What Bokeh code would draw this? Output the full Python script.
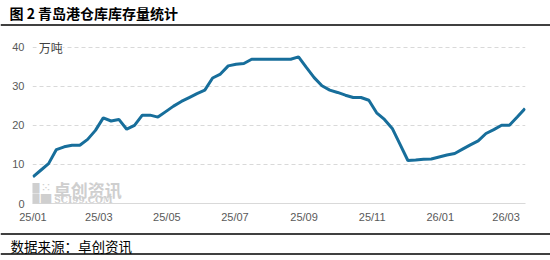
import pandas as pd
from bokeh.plotting import figure
from bokeh.models import (Range1d, Label, Span, DatetimeTickFormatter, MonthsTicker,
                          FixedTicker, ColumnDataSource)
from bokeh.layouts import column
from bokeh.embed import file_html
from bokeh.resources import INLINE

# ---- data ----
title_text = "图 2 青岛港仓库库存量统计"
source_text = "数据来源：卓创资讯"
unit_text = "万吨"
start_date = "2025-01-01"
stock = [6.8, 8.5, 10.2, 13.8, 14.5, 14.9, 14.9, 16.4, 18.7, 21.9, 21.1, 21.5, 19.0, 20.0,
         22.6, 22.6, 22.1, 23.5, 24.9, 26.1, 27.1, 28.1, 29.0, 32.1, 33.1, 35.2, 35.6, 35.8,
         36.9, 36.9, 36.9, 36.9, 36.9, 36.9, 37.5, 34.8, 32.2, 30.1, 29.0, 28.4, 27.7, 27.1,
         27.1, 26.4, 23.2, 21.5, 19.2, 15.1, 11.0, 11.1, 11.3, 11.4, 11.9, 12.4, 12.8, 13.9,
         15.0, 16.0, 17.9, 18.9, 20.0, 20.0, 22.1, 24.3]
y_ticks = [0, 10, 20, 30, 40]
tick_months = [0, 2, 4, 6, 8, 10]

dates = pd.date_range(start_date, periods=len(stock), freq="7D")
src = ColumnDataSource(dict(date=dates, stock=stock))

W = 550
CJK = "Noto Sans CJK SC"
LAT = "Liberation Sans"
GRAY = "#595959"

def ms(ts):
    return pd.Timestamp(ts).value / 1e6

def blank(h):
    f = figure(width=W, height=h, x_range=Range1d(0, W), y_range=Range1d(h, 0),
               output_backend="svg", toolbar_location=None,
               x_axis_location=None, y_axis_location=None,
               min_border_left=0, min_border_right=0, min_border_top=0, min_border_bottom=0)
    f.grid.visible = False
    f.outline_line_color = None
    f.frame_align = False
    return f

# ---- header ----
top = blank(26)
top.add_layout(Label(x=9, y=12.5, text=title_text, text_font=CJK, text_font_style="bold",
                     text_font_size="14px", text_color="black", text_baseline="middle"))
top.add_layout(Span(location=24.5, dimension="width", line_color="black", line_width=1.5))

# ---- main chart ----
x0 = dates[0] - pd.Timedelta(hours=10)
x1 = dates[-1] + pd.Timedelta(hours=10)
p = figure(width=W, height=206, x_axis_type="datetime",
           x_range=Range1d(x0, x1), y_range=Range1d(0, 42.2),
           output_backend="svg", toolbar_location=None,
           min_border_left=32, min_border_right=25, min_border_top=12, min_border_bottom=29)
p.frame_align = False
p.outline_line_color = None
p.xgrid.grid_line_color = None
p.ygrid.grid_line_color = "#d9d9d9"
p.ygrid.grid_line_dash = "4 3"
p.yaxis.ticker = FixedTicker(ticks=y_ticks)
p.xaxis.ticker = MonthsTicker(months=tick_months)
p.xaxis.formatter = DatetimeTickFormatter(months="%y/%m", days="%y/%m", years="%y/%m")
for ax in (p.xaxis[0], p.yaxis[0]):
    ax.major_tick_line_color = None
    ax.minor_tick_line_color = None
    ax.major_tick_out = 0
    ax.minor_tick_out = 0
    ax.major_label_text_font = LAT
    ax.major_label_text_font_size = "11px"
    ax.major_label_text_color = GRAY
p.yaxis.axis_line_color = None
p.yaxis.major_label_standoff = 8
p.xaxis.axis_line_color = "#d9d9d9"
p.xaxis.major_label_standoff = 7

# watermark
wm = "#cfcfcf"
for dx, dy in [(1.5, 4.1), (1.5, 1.3), (12.0, 1.3)]:
    p.add_layout(Label(x=ms(x0 + pd.Timedelta(days=dx)), y=dy, text="■", text_font=CJK,
                       text_font_size="13px", text_color=wm, text_align="center",
                       text_baseline="middle"))
p.add_layout(Label(x=ms(x0 + pd.Timedelta(days=12.0)), y=4.1, text="⁙", text_font="DejaVu Sans",
                   text_font_size="13px", text_color=wm, text_align="center", text_baseline="middle"))
p.add_layout(Label(x=ms(x0 + pd.Timedelta(days=19)), y=3.5, text="卓创资讯", text_font=CJK,
                   text_font_style="bold", text_font_size="17px", text_color=wm,
                   text_baseline="middle"))
p.add_layout(Label(x=ms(x0 + pd.Timedelta(days=19.5)), y=0.8, text="SCI99.COM", text_font="DejaVu Serif",
                   text_font_style="bold", text_font_size="9px", text_color=wm,
                   text_baseline="middle"))

p.line("date", "stock", source=src, line_color="#176e9b", line_width=3)

p.add_layout(Label(x=ms(x0 + pd.Timedelta(days=5.5)), y=40, text=unit_text, text_font=CJK,
                   text_font_size="12px", text_color="#404040", text_baseline="middle",
                   background_fill_color="white"))

# ---- footer ----
bot = blank(28)
bot.add_layout(Span(location=1.5, dimension="width", line_color="black", line_width=1.5))
bot.add_layout(Label(x=10, y=13.5, text=source_text, text_font=CJK, text_font_size="13.5px",
                     text_color="black", text_baseline="middle"))
bot.add_layout(Span(location=21.5, dimension="width", line_color="black", line_width=1.5))

layout = column(top, p, bot, spacing=0)
open("out.html", "w").write(file_html(layout, INLINE))
